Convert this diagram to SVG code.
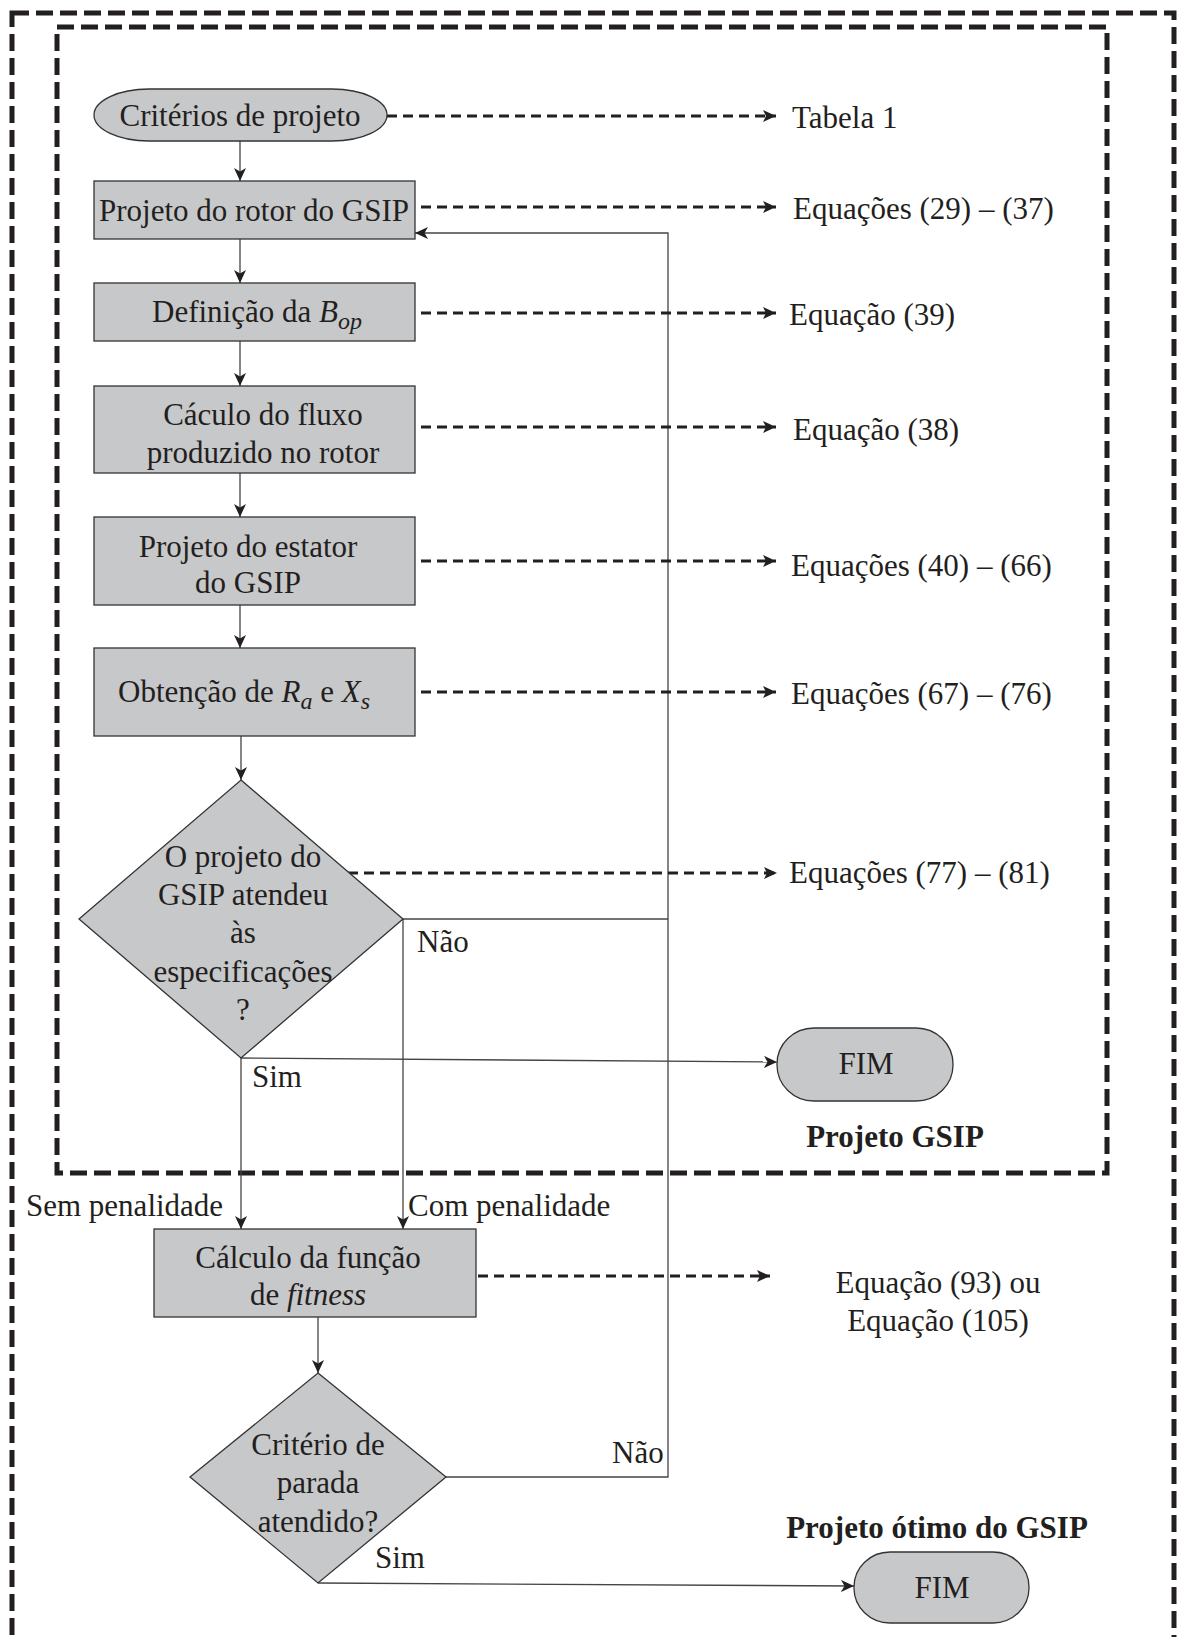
<svg xmlns="http://www.w3.org/2000/svg" width="1177" height="1637" viewBox="0 0 1177 1637">
<style>
text{font-family:"Liberation Serif","Times New Roman",serif;font-size:31px;fill:#231f20}
.b{font-weight:bold}
.i{font-style:italic}
.c{text-anchor:middle}
.node{fill:#c7c8ca;stroke:#333;stroke-width:1.3}
.frame{fill:none;stroke:#231f20;stroke-width:5;stroke-dasharray:17 7}
.ln{fill:none;stroke:#444;stroke-width:1.3}
.dl{fill:none;stroke:#231f20;stroke-width:3;stroke-dasharray:10 6}
</style>
<defs>
<marker id="a" markerUnits="userSpaceOnUse" markerWidth="14" markerHeight="12" refX="13" refY="6" orient="auto"><path d="M0,0 L13,6 L0,12 L3.5,6 z" fill="#231f20"/></marker>
<marker id="d" markerUnits="userSpaceOnUse" markerWidth="14" markerHeight="12" refX="13" refY="6" orient="auto"><path d="M0,0 L13,6 L0,12 L3,6 z" fill="#231f20"/></marker>
</defs>
<g id="frames">
<rect class="frame" x="12" y="13" width="1162" height="1629"/>
<rect class="frame" x="57" y="27" width="1050" height="1146"/>
</g>
<g id="connectors">
<path class="ln" d="M240,141 V181" marker-end="url(#a)"/>
<path class="ln" d="M240,239 V283" marker-end="url(#a)"/>
<path class="ln" d="M240,341 V386" marker-end="url(#a)"/>
<path class="ln" d="M240,473 V517" marker-end="url(#a)"/>
<path class="ln" d="M240,605 V648" marker-end="url(#a)"/>
<path class="ln" d="M241,736 V780" marker-end="url(#a)"/>
<path class="ln" d="M403,919 H668"/>
<path class="ln" d="M403,919 V1229" marker-end="url(#a)"/>
<path class="ln" d="M241,1058 V1229" marker-end="url(#a)"/>
<path class="ln" d="M241,1058 L777,1062" marker-end="url(#a)"/>
<path class="ln" d="M446,1477 H668 V233 H415" marker-end="url(#a)"/>
<path class="ln" d="M318,1317 V1373" marker-end="url(#a)"/>
<path class="ln" d="M318,1583 L854,1586" marker-end="url(#a)"/>
<path class="dl" d="M387,116 H776" marker-end="url(#d)"/>
<path class="dl" d="M421,207 H776" marker-end="url(#d)"/>
<path class="dl" d="M421,313 H776" marker-end="url(#d)"/>
<path class="dl" d="M421,427 H776" marker-end="url(#d)"/>
<path class="dl" d="M421,561 H776" marker-end="url(#d)"/>
<path class="dl" d="M421,692 H776" marker-end="url(#d)"/>
<path class="dl" d="M348,873 H777" marker-end="url(#d)"/>
<path class="dl" d="M478,1276 H770" marker-end="url(#d)"/>
</g>
<g id="labels">
<text x="792" y="128">Tabela 1</text>
<text x="793" y="219">Equações (29) – (37)</text>
<text x="789" y="325">Equação (39)</text>
<text x="793" y="440">Equação (38)</text>
<text x="791" y="576">Equações (40) – (66)</text>
<text x="791" y="704">Equações (67) – (76)</text>
<text x="789" y="883">Equações (77) – (81)</text>
<text class="c" x="938" y="1293">Equação (93) ou</text>
<text class="c" x="938" y="1331">Equação (105)</text>
<text x="417" y="952">Não</text>
<text x="252" y="1087">Sim</text>
<text x="26" y="1216">Sem penalidade</text>
<text x="408" y="1216">Com penalidade</text>
<text x="612" y="1463">Não</text>
<text x="375" y="1568">Sim</text>
<text class="b c" x="895" y="1147">Projeto GSIP</text>
<text class="b c" x="937" y="1538">Projeto ótimo do GSIP</text>
</g>
<g id="n-criterios">
<rect class="node" x="94" y="89" width="293" height="52" rx="55" ry="26"/>
<text class="c" x="240" y="126">Critérios de projeto</text>
</g>
<g id="n-rotor">
<rect class="node" x="94" y="181" width="321" height="58"/>
<text class="c" x="254" y="221">Projeto do rotor do GSIP</text>
</g>
<g id="n-bop">
<rect class="node" x="94" y="283" width="321" height="58"/>
<text x="152" y="322">Definição da <tspan class="i">B</tspan><tspan class="i" font-size="24" dy="7">op</tspan></text>
</g>
<g id="n-fluxo">
<rect class="node" x="94" y="386" width="321" height="87"/>
<text class="c" x="263" y="425">Cáculo do fluxo</text>
<text class="c" x="263" y="463">produzido no rotor</text>
</g>
<g id="n-estator">
<rect class="node" x="94" y="517" width="321" height="88"/>
<text class="c" x="248" y="557">Projeto do estator</text>
<text class="c" x="248" y="593">do GSIP</text>
</g>
<g id="n-rx">
<rect class="node" x="94" y="648" width="321" height="88"/>
<text x="118" y="702">Obtenção de <tspan class="i">R</tspan><tspan class="i" font-size="24" dy="7">a</tspan><tspan dy="-7"> e </tspan><tspan class="i">X</tspan><tspan class="i" font-size="24" dy="7">s</tspan></text>
</g>
<g id="n-decisao1">
<polygon class="node" points="241,780 403,919 241,1058 79,919"/>
<text class="c" x="243" y="867">O projeto do</text>
<text class="c" x="243" y="905">GSIP atendeu</text>
<text class="c" x="243" y="943">às</text>
<text class="c" x="243" y="982">especificações</text>
<text class="c" x="243" y="1020">?</text>
</g>
<g id="n-fim1">
<rect class="node" x="777" y="1028" width="176" height="73" rx="37" ry="36"/>
<text class="c" x="866" y="1074">FIM</text>
</g>
<g id="n-fitness">
<rect class="node" x="154" y="1229" width="322" height="88"/>
<text class="c" x="308" y="1268">Cálculo da função</text>
<text class="c" x="308" y="1305">de <tspan class="i">fitness</tspan></text>
</g>
<g id="n-decisao2">
<polygon class="node" points="318,1373 446,1477 318,1583 190,1477"/>
<text class="c" x="318" y="1455">Critério de</text>
<text class="c" x="318" y="1493">parada</text>
<text class="c" x="318" y="1532">atendido?</text>
</g>
<g id="n-fim2">
<rect class="node" x="854" y="1552" width="175" height="71" rx="36" ry="35"/>
<text class="c" x="942" y="1598">FIM</text>
</g>
</svg>
